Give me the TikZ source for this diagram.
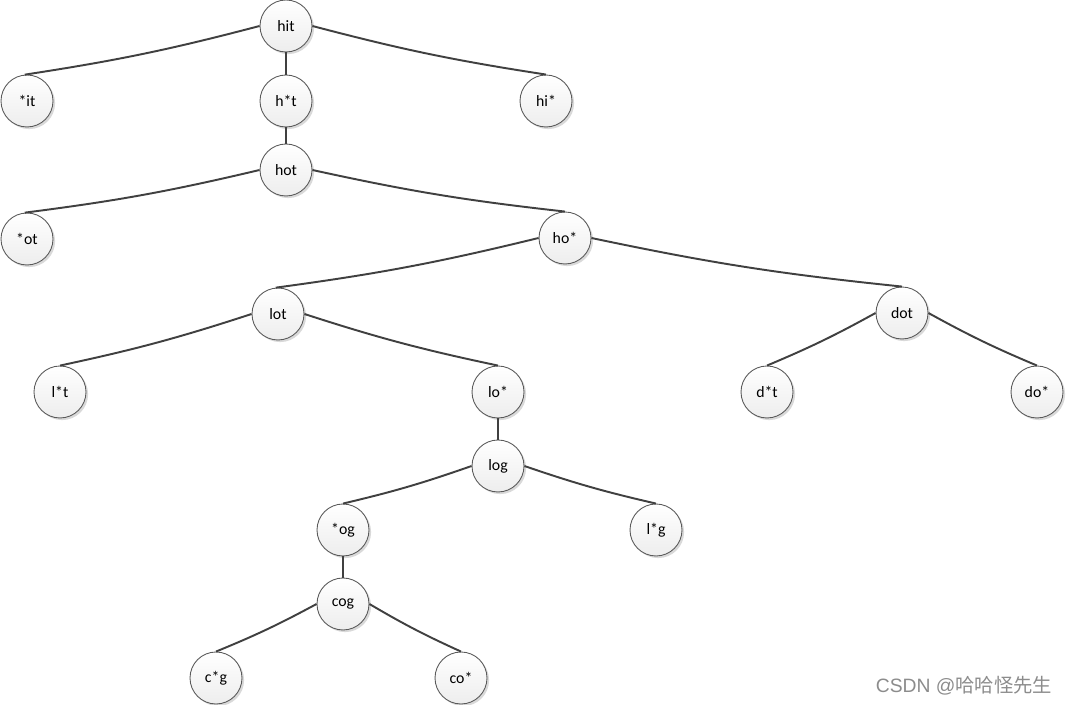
\documentclass[tikz,border=0pt]{standalone}
\usepackage{fontspec}
\setmainfont{Carlito}
\newfontfamily\cjkfont{Noto Sans CJK SC}
\newfontfamily\wmfont{Liberation Sans}
\usetikzlibrary{shadows}
\definecolor{edgecol}{HTML}{404040}
\definecolor{bordercol}{HTML}{5A5A5A}
\tikzset{
  wnode/.style={circle, draw=bordercol, line width=0.5pt, minimum size=1.04cm, inner sep=0pt,
    top color=white, bottom color=black!7, font=\fontsize{9}{10}\selectfont,
    drop shadow={shadow xshift=1.2pt, shadow yshift=-1.2pt, opacity=0.15, fill=black}},
  edge/.style={draw=edgecol, line width=1.1pt},
  lbend/.style={bend left=3},
  rbend/.style={bend right=3}
}
\begin{document}
\begin{tikzpicture}[x=0.02cm, y=-0.02cm]
\useasboundingbox (0,0) rectangle (1066,705);
\node[wnode] (hit) at (286,26) {hit};
\node[wnode] (sit) at (27,101) {*it};
\node[wnode] (hst) at (286,101) {h*t};
\node[wnode] (his) at (546,101) {hi*};
\node[wnode] (hot) at (286,170) {hot};
\node[wnode] (sot) at (27,239) {*ot};
\node[wnode] (hos) at (565,238) {ho*};
\node[wnode] (lot) at (278,314) {lot};
\node[wnode] (dot) at (902,313) {dot};
\node[wnode] (lst) at (60,392) {l*t};
\node[wnode] (los) at (498,392) {lo*};
\node[wnode] (dst) at (767,392) {d*t};
\node[wnode] (dos) at (1037,392) {do*};
\node[wnode] (log) at (498,466) {log};
\node[wnode] (sog) at (343,530) {*og};
\node[wnode] (lsg) at (656,530) {l*g};
\node[wnode] (cog) at (343,604) {cog};
\node[wnode] (csg) at (216,678) {c*g};
\node[wnode] (cos) at (461,678) {co*};

\path[edge] (hit.west) to[lbend] (sit.95);
\path[edge] (hit.south) -- (hst.north);
\path[edge] (hit.east) to[rbend] (his.north);
\path[edge] (hst.south) -- (hot.north);
\path[edge] (hot.west) to[lbend] (sot.95);
\path[edge] (hot.east) to[rbend] (hos.north);
\path[edge] (hos.west) to[lbend] (lot.95);
\path[edge] (hos.east) to[rbend] (dot.north);
\path[edge] (lot.west) to[lbend] (lst.north);
\path[edge] (lot.east) to[rbend] (los.north);
\path[edge] (dot.west) to[lbend] (dst.north);
\path[edge] (dot.east) to[rbend] (dos.north);
\path[edge] (los.south) -- (log.north);
\path[edge] (log.west) to[lbend] (sog.north);
\path[edge] (log.east) to[rbend] (lsg.north);
\path[edge] (sog.south) -- (cog.north);
\path[edge] (cog.west) to[lbend] (csg.north);
\path[edge] (cog.east) to[rbend] (cos.north);

\node[text=black!45, font=\wmfont\fontsize{11}{12}\selectfont, anchor=center] (wm) at (964,686) {CSDN @{\cjkfont 哈哈怪先生}};
\end{tikzpicture}
\end{document}
